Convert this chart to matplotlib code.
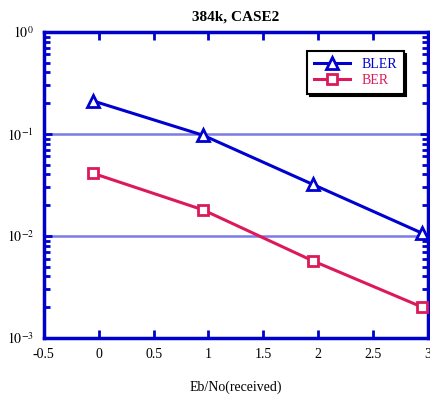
import matplotlib
matplotlib.use("Agg")
import matplotlib.pyplot as plt
import numpy as np

# values
ebno = [-0.05, 0.95, 1.95, 2.95]
bler = [0.21, 0.097, 0.032, 0.0106]
ber = [0.041, 0.018, 0.0057, 0.002]
xticks = [-0.5, 0, 0.5, 1, 1.5, 2, 2.5, 3]

plt.rcParams['font.family'] = ['Liberation Serif', 'DejaVu Serif']
plt.rcParams['mathtext.fontset'] = 'stix'

blue = '#0000d0'
red = '#dc1a5a'
axcol = '#0000cc'

fig = plt.figure(figsize=(4.3, 3.98), dpi=100)
ax = fig.add_axes([0.102, 0.151, 0.893, 0.769])

for y in [1e-1, 1e-2]:
    ax.axhline(y, color='#7b7be6', lw=1.8, zorder=1)

ax.plot(ebno, bler, '-', color=blue, lw=2.2, marker='^', ms=8, mfc='white',
        mec=blue, mew=2, label='BLER', zorder=3)
ax.plot(ebno, ber, '-', color=red, lw=2.2, marker='s', ms=7, mfc='white',
        mec=red, mew=2, label='BER', zorder=3)

ax.set_yscale('log')
ax.set_ylim(1e-3, 1)
ax.set_xlim(-0.5, 3)
ax.set_xticks(xticks)
ax.set_xticklabels(['-0.5', '0', '0.5', '1', '1.5', '2', '2.5', '3'])
ax.set_yticks([1e-3, 1e-2, 1e-1, 1])
ax.set_yticklabels([r'$10^{-3}$', r'$10^{-2}$', r'$10^{-1}$', r'$10^{0}$'])

for s in ax.spines.values():
    s.set_color(axcol)
    s.set_linewidth(2.5)
ax.tick_params(which='major', direction='in', length=6, width=2, color=axcol,
               top=True, right=True, labelsize=10, pad=7)
ax.tick_params(which='minor', direction='in', length=4, width=2, color=axcol,
               left=True, right=True)

ax.set_title('384k, CASE2', fontsize=11, fontweight='bold', pad=8)
ax.set_xlabel('Eb/No(received)', fontsize=10, labelpad=14)

leg = ax.legend(loc='upper right', bbox_to_anchor=(0.955, 0.96), frameon=True,
                fancybox=False, shadow={'color': 'black', 'alpha': 1},
                edgecolor='black', fontsize=10, handlelength=2.6,
                borderpad=0.5, labelspacing=0.2)
leg.get_frame().set_linewidth(1.5)
for t, c in zip(leg.get_texts(), [blue, red]):
    t.set_color(c)

fig.savefig('out.png', dpi=100)
